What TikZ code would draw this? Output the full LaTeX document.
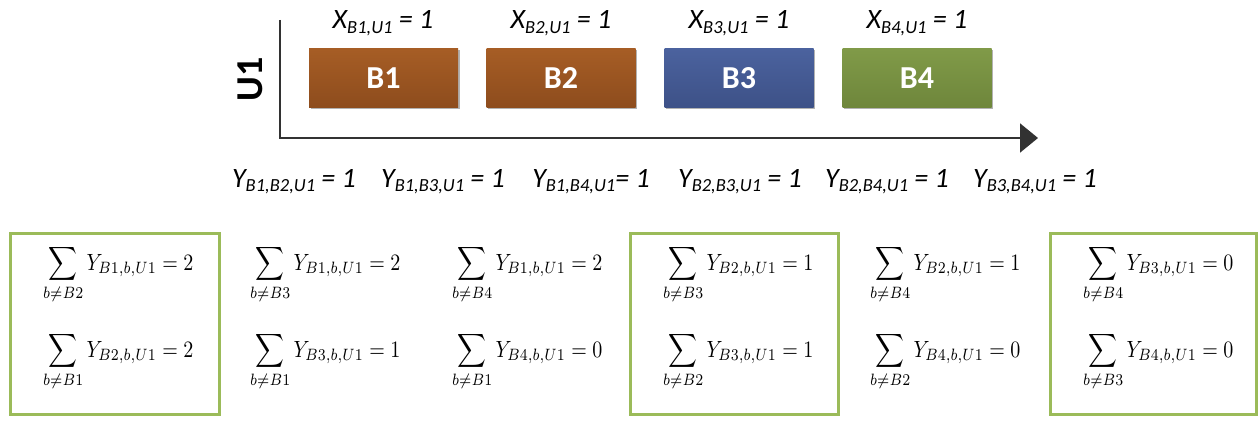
\documentclass[tikz,border=0pt]{standalone}
\usepackage{fontspec}
\setmainfont{Carlito}
\usepackage{amsmath}
\usepackage{graphicx}
\usetikzlibrary{arrows.meta,shadows}
\definecolor{brT}{RGB}{166,93,37}
\definecolor{brB}{RGB}{141,76,29}
\definecolor{blT}{RGB}{75,98,158}
\definecolor{blB}{RGB}{61,81,135}
\definecolor{grT}{RGB}{128,154,72}
\definecolor{grB}{RGB}{110,134,59}
\definecolor{grn}{RGB}{155,187,89}
\definecolor{axisc}{RGB}{50,50,50}
\newcommand\sbs[1]{\raisebox{-4.5pt}{\fontsize{18.5}{20}\selectfont #1}}
\newcommand\eqn[3]{\scalebox{2.0}[2.35]{$\displaystyle\sum_{b\neq #1} Y_{#2,b,U1} = #3$}}
\begin{document}
\begin{tikzpicture}[x=1pt,y=-1pt,
  bbox/.style={minimum width=149pt, minimum height=59pt, inner sep=0pt, text=white,
    font=\fontsize{32}{36}\selectfont\bfseries,
    drop shadow={shadow xshift=1.5pt,shadow yshift=-1.5pt,opacity=0.3,fill=black}},
  lab/.style={font=\fontsize{28}{32}\selectfont\itshape, anchor=base, inner sep=0pt},
  eqs/.style={anchor=base west, inner sep=0pt},
  gbox/.style={draw=grn, line width=3pt, minimum height=181pt, inner sep=0pt}]
\useasboundingbox (0,0) rectangle (1260,422);
% axes
\coordinate (top) at (280,20);
\coordinate (org) at (280,138);
\coordinate (end) at (1038,138);
\draw[axisc, line width=2pt, -{Triangle[length=18pt,width=29pt]}] (top) -- (org) -- (end);
\node[rotate=90, font=\fontsize{38}{40}\selectfont\bfseries, inner sep=0pt] (u1) at (250,79) {U1};
% boxes
\node[bbox, top color=brT, bottom color=brB] (b1) at (383.5,78.5) {B1};
\node[bbox, top color=brT, bottom color=brB] (b2) at (561,78.5) {B2};
\node[bbox, top color=blT, bottom color=blB] (b3) at (739,78.5) {B3};
\node[bbox, top color=grT, bottom color=grB] (b4) at (917,78.5) {B4};
% X labels
\node[lab] (x1) at (383,29) {X\sbs{B1,U1} = 1};
\node[lab] (x2) at (561,29) {X\sbs{B2,U1} = 1};
\node[lab] (x3) at (739,29) {X\sbs{B3,U1} = 1};
\node[lab] (x4) at (917,29) {X\sbs{B4,U1} = 1};
% Y labels
\node[lab] (y12) at (294,187) {Y\sbs{B1,B2,U1} = 1};
\node[lab] (y13) at (443,187) {Y\sbs{B1,B3,U1} = 1};
\node[lab] (y14) at (591,187) {Y\sbs{B1,B4,U1}= 1};
\node[lab] (y23) at (740,187) {Y\sbs{B2,B3,U1} = 1};
\node[lab] (y24) at (887,187) {Y\sbs{B2,B4,U1} = 1};
\node[lab] (y34) at (1035,187) {Y\sbs{B3,B4,U1} = 1};
% green boxes
\node[gbox, minimum width=209pt] (g1) at (115,324) {};
\node[gbox, minimum width=208pt] (g2) at (734.5,324) {};
\node[gbox, minimum width=206pt] (g3) at (1153.5,324) {};
% sums
\node[eqs] (s1a) at (43,270) {\eqn{B2}{B1}{2}};
\node[eqs] (s1b) at (43,357) {\eqn{B1}{B2}{2}};
\node[eqs] (s2a) at (250,270) {\eqn{B3}{B1}{2}};
\node[eqs] (s2b) at (250,357) {\eqn{B1}{B3}{1}};
\node[eqs] (s3a) at (452,270) {\eqn{B4}{B1}{2}};
\node[eqs] (s3b) at (452,357) {\eqn{B1}{B4}{0}};
\node[eqs] (s4a) at (663,270) {\eqn{B3}{B2}{1}};
\node[eqs] (s4b) at (663,357) {\eqn{B2}{B3}{1}};
\node[eqs] (s5a) at (870,270) {\eqn{B4}{B2}{1}};
\node[eqs] (s5b) at (870,357) {\eqn{B2}{B4}{0}};
\node[eqs] (s6a) at (1083,270) {\eqn{B4}{B3}{0}};
\node[eqs] (s6b) at (1083,357) {\eqn{B3}{B4}{0}};
\end{tikzpicture}
\end{document}
